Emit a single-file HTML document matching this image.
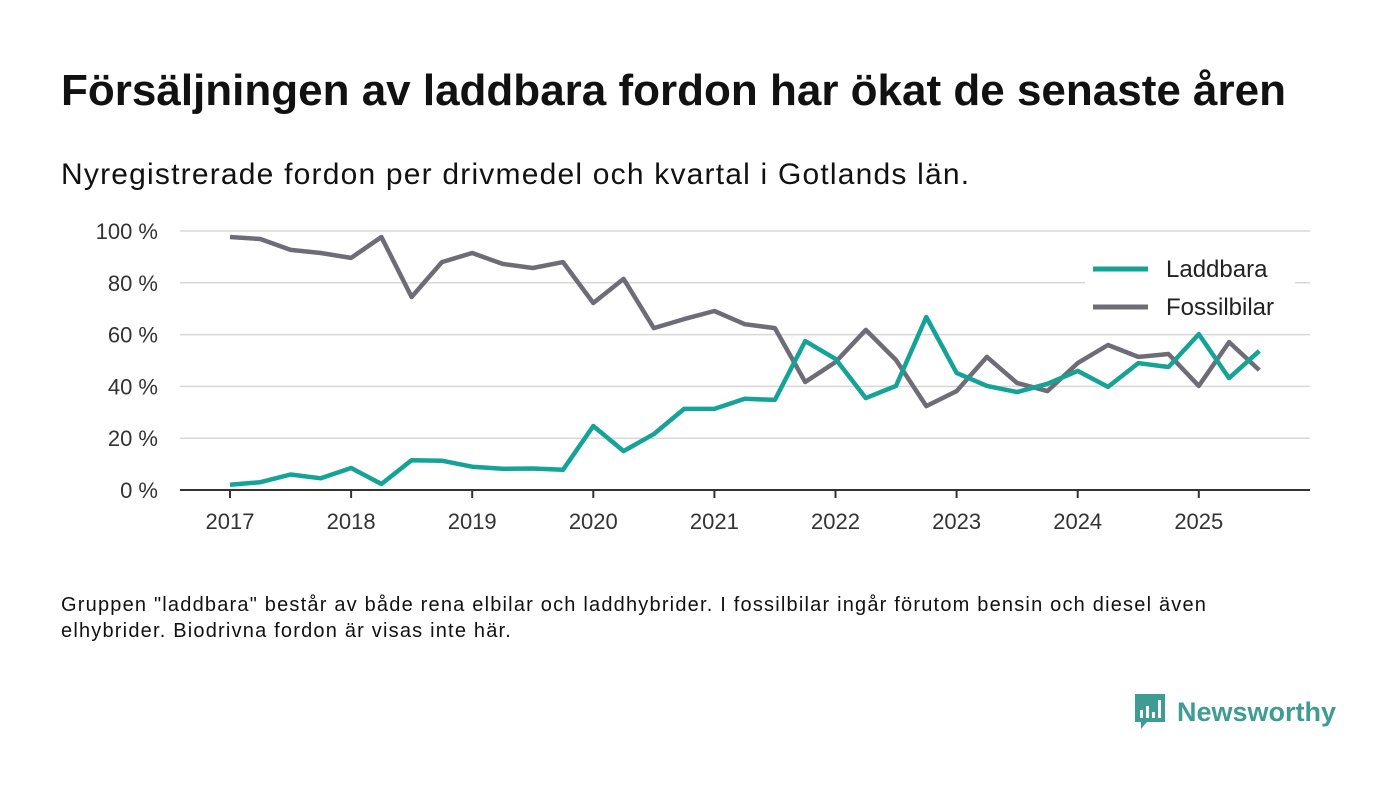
<!DOCTYPE html>
<html><head><meta charset="utf-8">
<style>
body{margin:0;width:1400px;height:793px;background:#fff;font-family:"Liberation Sans",sans-serif;color:#111;position:relative;overflow:hidden}
#title{position:absolute;left:61px;top:66px;font-size:44px;font-weight:bold;margin:0;white-space:nowrap}
#sub{position:absolute;left:61px;top:158px;font-size:30px;letter-spacing:1.2px;white-space:nowrap}
#note{position:absolute;left:61px;top:592px;font-size:20px;line-height:26px;width:1230px;letter-spacing:1.2px}
#logo{position:absolute;left:1133px;top:692px;display:flex;align-items:center;gap:10px;color:#3f9c92;font-size:27px;font-weight:bold}
svg text{font-family:"Liberation Sans",sans-serif}
</style></head><body>
<h1 id="title">Försäljningen av laddbara fordon har ökat de senaste åren</h1>
<div id="sub">Nyregistrerade fordon per drivmedel och kvartal i Gotlands län.</div>
<svg id="chart" width="1400" height="793" style="position:absolute;left:0;top:0"></svg>
<div id="note">Gruppen "laddbara" består av både rena elbilar och laddhybrider. I fossilbilar ingår förutom bensin och diesel även elhybrider. Biodrivna fordon är visas inte här.</div>
<div id="logo">
<svg width="34" height="40" viewBox="0 0 34 40"><path d="M2 2h30v28H14l-6 7v-7H2z" fill="#3f9c92"/><rect x="7" y="18" width="3" height="8" fill="#fff"/><rect x="13" y="14" width="3" height="12" fill="#fff"/><rect x="19" y="20" width="3" height="6" fill="#fff"/><rect x="25" y="8" width="3" height="18" fill="#fff"/></svg>
<span>Newsworthy</span></div>
<script>
const startYear=2017;
const laddbara=[2,3,6,4.5,8.5,2.3,11.5,11.3,9,8.2,8.3,7.8,24.7,15,21.6,31.3,31.3,35.2,34.8,57.5,50.6,35.5,40.2,66.8,45.2,40.2,37.8,41,46,39.8,49,47.5,60.2,43.2,53.7];
const fossil=[97.7,96.9,92.7,91.5,89.6,97.7,74.5,88,91.5,87.3,85.7,88,72.2,81.5,62.5,66,69.1,64,62.5,41.7,49.4,61.8,50.2,32.4,38.2,51.4,41.3,38.2,49,56,51.4,52.5,40.2,57.1,46.3];
const yTicks=[0,20,40,60,80,100];
const xTicks=[2017,2018,2019,2020,2021,2022,2023,2024,2025];
const NS='http://www.w3.org/2000/svg';
const svg=document.getElementById('chart');
const x=t=>230+(t-2017)*121.1;
const y=v=>490-v*2.59;
function mk(tag,attrs,parent){const e=document.createElementNS(NS,tag);for(const k in attrs)e.setAttribute(k,attrs[k]);(parent||svg).appendChild(e);return e;}
yTicks.forEach(v=>{
  if(v>0){const g=mk('line',{x1:180,x2:1310,y1:y(v),y2:y(v),stroke:'#d8d8d8','stroke-width':1.5});
  
  }
  const t=mk('text',{x:158,y:y(v)+8,'text-anchor':'end','font-size':22,fill:'#333'});t.textContent=v+' %';
  
  
});
const ax=mk('line',{x1:180,x2:1310,y1:490,y2:490,stroke:'#333','stroke-width':2});


xTicks.forEach(yr=>{
  mk('line',{x1:x(yr),x2:x(yr),y1:490,y2:498,stroke:'#333','stroke-width':2});
  const t=mk('text',{x:x(yr),y:529,'text-anchor':'middle','font-size':22,fill:'#333'});t.textContent=yr;
  
  
});
function series(arr,color,name){
  const d=arr.map((v,i)=>(i?'L':'M')+x(startYear+i/4).toFixed(1)+' '+y(v).toFixed(1)).join(' ');
  const p=mk('path',{d:d,fill:'none',stroke:color,'stroke-width':4.5,'stroke-linejoin':'round'});
  
  
}
series(fossil,'#6e6d76','fossilbilar-line');
series(laddbara,'#14a396','laddbara-line');
mk('rect',{x:1085,y:250,width:210,height:75,fill:'#fff'});
[['Laddbara','#14a396',269],['Fossilbilar','#6e6d76',307]].forEach(([n,c,yy])=>{
  mk('line',{x1:1093,x2:1148,y1:yy,y2:yy,stroke:c,'stroke-width':5});
  const t=mk('text',{x:1166,y:yy+8,'font-size':24,fill:'#222'});t.textContent=n;
  
  
});
</script>
</body></html>
